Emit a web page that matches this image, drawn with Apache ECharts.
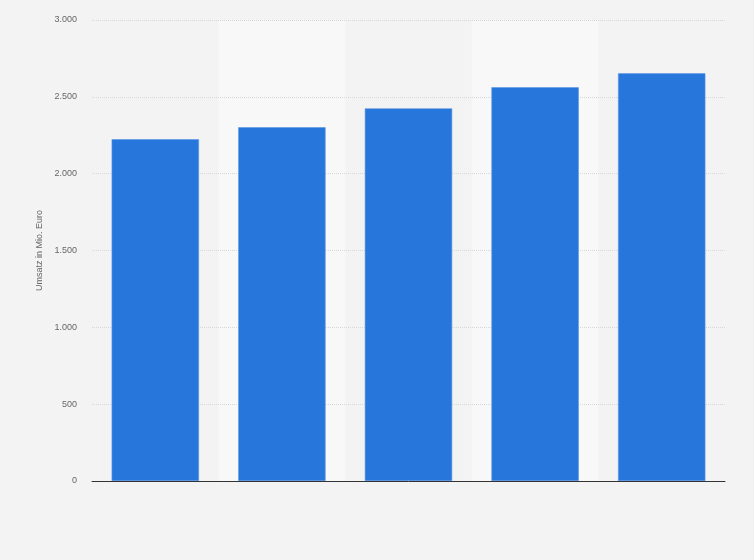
<!DOCTYPE html>
<html>
<head>
<meta charset="utf-8">
<script src="https://cdn.jsdelivr.net/npm/echarts@6/dist/echarts.min.js"></script>
<style>
html,body{margin:0;padding:0;background:#f3f3f3;}
#chart{width:754px;height:560px;}
</style>
</head>
<body>
<div id="chart"></div>
<script>
const categories = ['1', '2', '3', '4', '5'];
const umsatz = [2224, 2302, 2425, 2562, 2653];
const yTicks = [0, 500, 1000, 1500, 2000, 2500, 3000];
const yAxisName = 'Umsatz in Mio. Euro';

function fmt(v) {
  return String(v).replace(/\B(?=(\d{3})+(?!\d))/g, '.');
}

const chart = echarts.init(document.getElementById('chart'));
chart.setOption({
  backgroundColor: '#f3f3f3',
  animation: false,
  grid: { left: 92, right: 29, top: 20, bottom: 79 },
  xAxis: [{
    type: 'category',
    data: categories,
    position: 'bottom',
    z: 0,
    axisLine: { show: false },
    axisTick: { show: false },
    axisLabel: { show: false },
    splitArea: { show: true, areaStyle: { color: ['rgba(0,0,0,0)', '#f8f8f8'] } }
  }, {
    type: 'category',
    data: categories,
    position: 'bottom',
    offset: 0,
    z: 5,
    axisLine: { show: true, lineStyle: { color: '#333', width: 1 } },
    axisTick: { show: false },
    axisLabel: { show: false },
    splitArea: { show: false },
    splitLine: { show: false }
  }],
  yAxis: {
    type: 'value',
    z: 1,
    min: yTicks[0],
    max: yTicks[yTicks.length - 1],
    interval: 500,
    name: yAxisName,
    nameLocation: 'middle',
    nameGap: 47,
    nameTextStyle: { color: '#666', fontSize: 9, fontFamily: 'Liberation Sans, Arial, sans-serif' },
    axisLine: { show: false },
    axisTick: { show: false },
    axisLabel: {
      color: '#666',
      fontSize: 9,
      margin: 15,
      fontFamily: 'Liberation Sans, Arial, sans-serif',
      formatter: fmt
    },
    splitLine: { show: true, lineStyle: { color: '#d8d8d8', type: 'dotted', width: 1 } }
  },
  series: [{
    type: 'bar',
    data: umsatz,
    xAxisIndex: 0,
    barWidth: '69%',
    z: 2,
    itemStyle: { color: '#2776dc', borderColor: '#5a96e4', borderWidth: 0.6 }
  }]
});
</script>
</body>
</html>
